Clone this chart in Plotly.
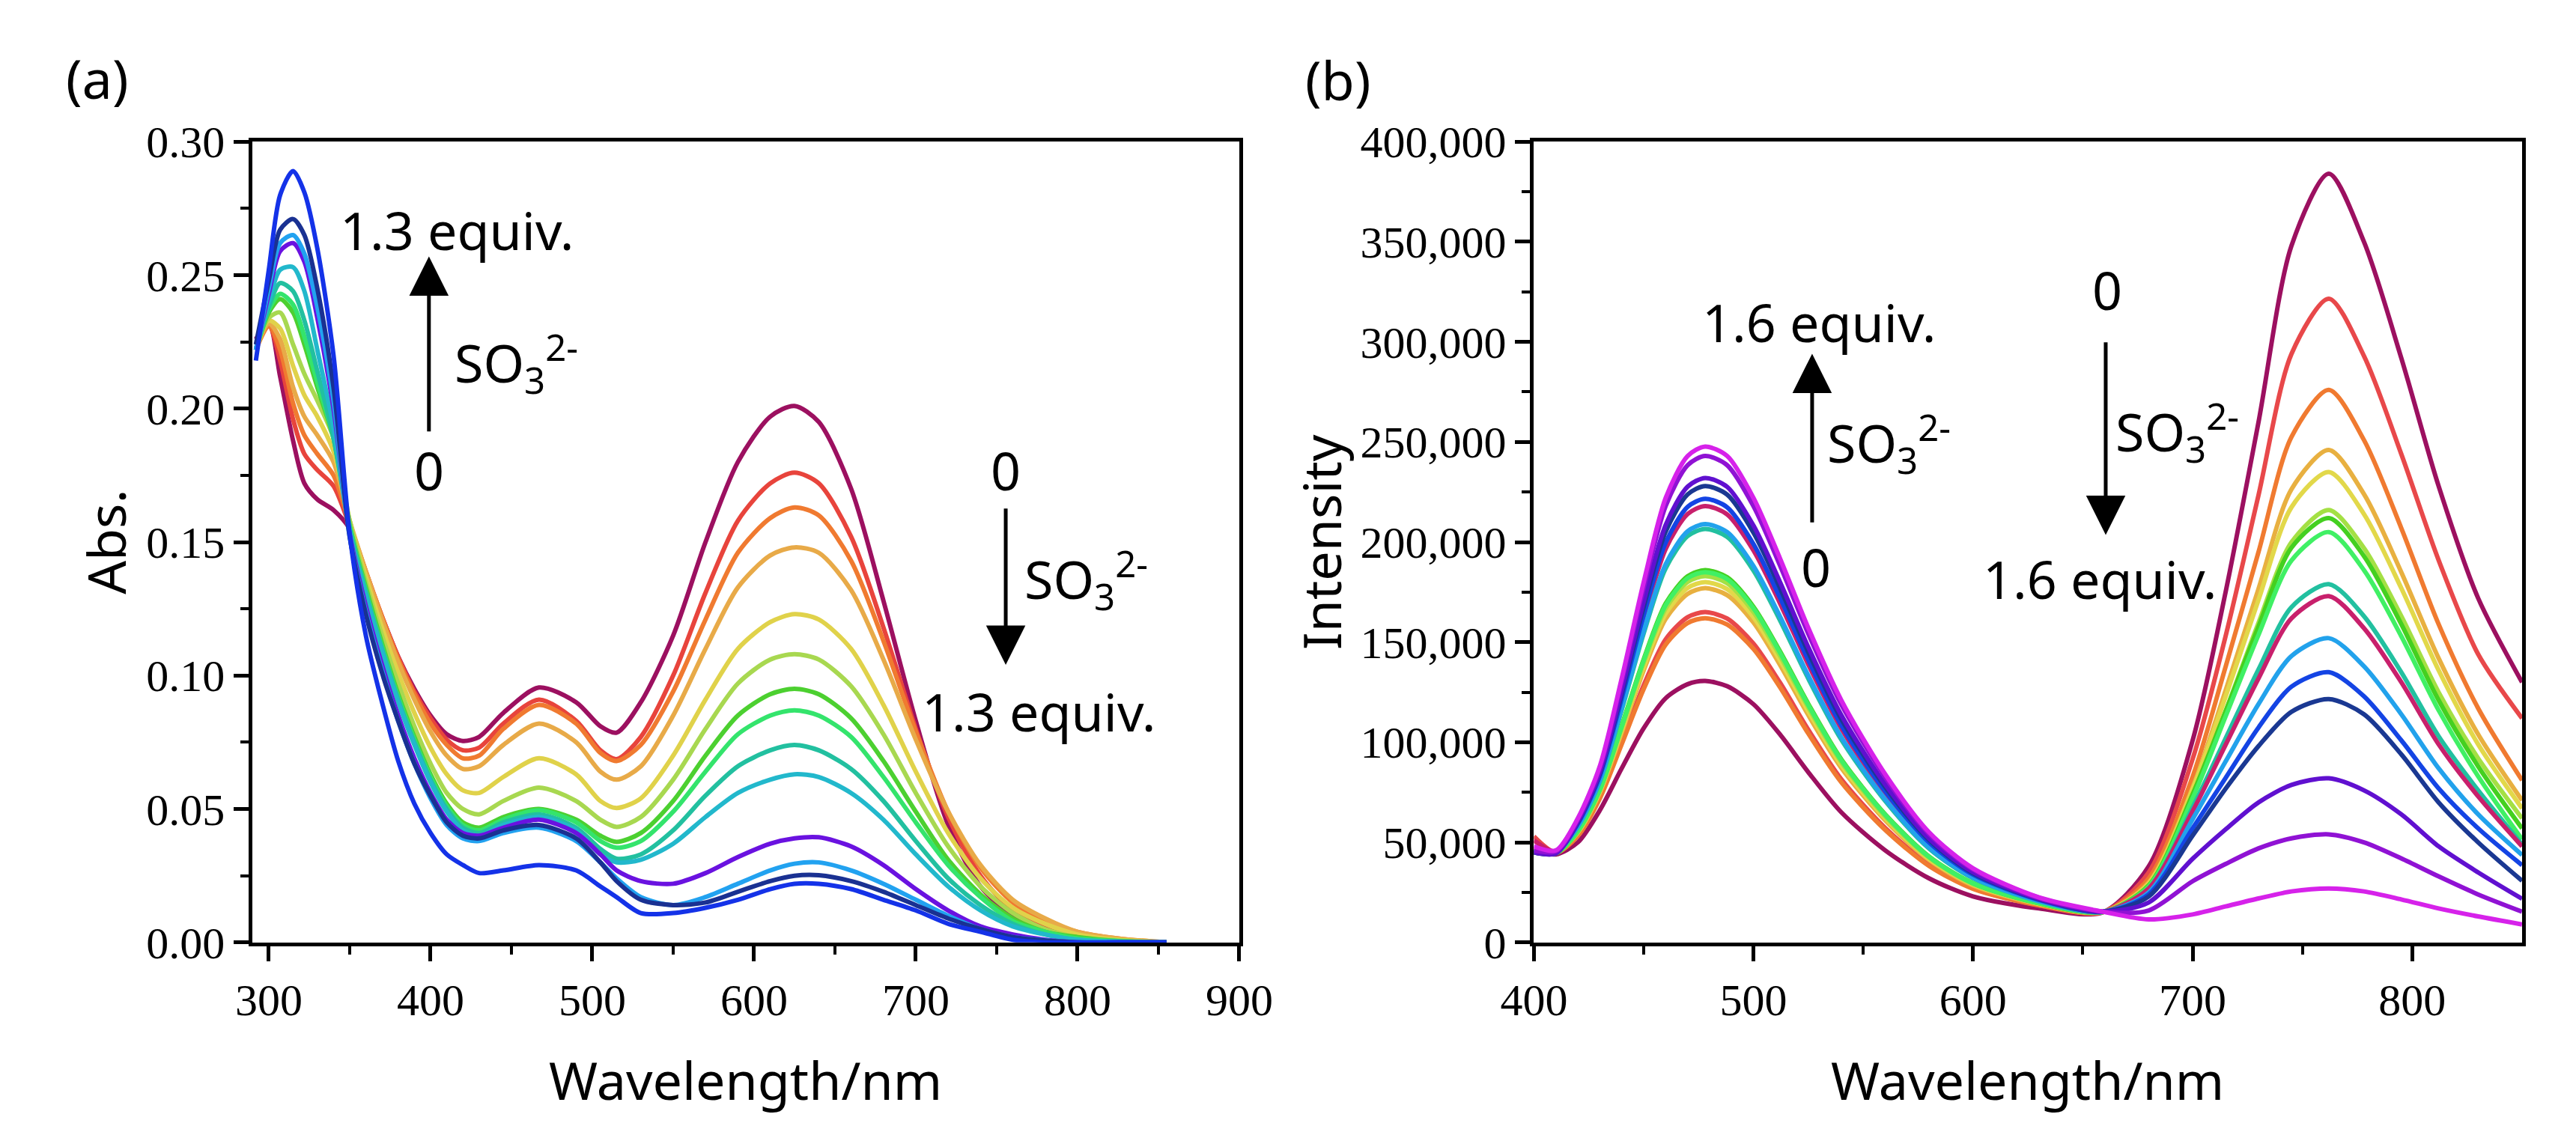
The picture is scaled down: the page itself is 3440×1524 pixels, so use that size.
import plotly.graph_objects as go

# ---------------- panel (a): absorption titration ----------------
WL_A = [292, 300, 307, 315, 322, 330, 340, 350, 360, 370, 380, 390, 400, 410, 420, 430,
        445, 467, 490, 505, 515, 530, 550, 570, 590, 610, 625, 640, 660, 680, 700, 720,
        740, 760, 780, 800, 825, 855]

ABS_00 = [0.226, 0.232, 0.212, 0.188, 0.172, 0.166, 0.162, 0.155, 0.138, 0.122, 0.107, 0.095, 0.085, 0.078, 0.0755, 0.077,
          0.086, 0.0955, 0.090, 0.081, 0.0786, 0.090, 0.115, 0.150, 0.180, 0.197, 0.201, 0.195, 0.170, 0.128, 0.083, 0.044,
          0.021, 0.010, 0.004, 0.0015, 0.0005, 0.0]
ABS_01 = [0.224, 0.231, 0.218, 0.196, 0.183, 0.177, 0.171, 0.156, 0.139, 0.122, 0.107, 0.094, 0.084, 0.076, 0.072, 0.073,
          0.082, 0.091, 0.083, 0.072, 0.0687, 0.077, 0.100, 0.131, 0.158, 0.172, 0.176, 0.172, 0.152, 0.118, 0.080, 0.047,
          0.025, 0.012, 0.006, 0.003, 0.001, 0.0]
ABS_02 = [0.222, 0.231, 0.222, 0.202, 0.190, 0.183, 0.175, 0.157, 0.139, 0.122, 0.106, 0.093, 0.082, 0.074, 0.069, 0.070,
          0.080, 0.089, 0.082, 0.071, 0.068, 0.074, 0.094, 0.121, 0.146, 0.159, 0.163, 0.160, 0.143, 0.113, 0.079, 0.049,
          0.028, 0.015, 0.008, 0.004, 0.0015, 0.0]
ABS_03 = [0.222, 0.232, 0.226, 0.208, 0.197, 0.190, 0.180, 0.158, 0.139, 0.121, 0.105, 0.091, 0.079, 0.070, 0.065, 0.066,
          0.074, 0.082, 0.075, 0.064, 0.061, 0.066, 0.085, 0.110, 0.133, 0.145, 0.148, 0.146, 0.132, 0.106, 0.076, 0.049,
          0.029, 0.016, 0.009, 0.004, 0.0015, 0.0]
ABS_04 = [0.222, 0.233, 0.230, 0.216, 0.205, 0.197, 0.184, 0.158, 0.137, 0.118, 0.101, 0.086, 0.073, 0.063, 0.057, 0.056,
          0.062, 0.069, 0.063, 0.053, 0.0504, 0.054, 0.070, 0.091, 0.110, 0.120, 0.123, 0.121, 0.110, 0.089, 0.064, 0.041,
          0.024, 0.013, 0.007, 0.003, 0.001, 0.0]
ABS_05 = [0.222, 0.234, 0.236, 0.224, 0.213, 0.203, 0.189, 0.158, 0.135, 0.115, 0.097, 0.081, 0.067, 0.056, 0.050, 0.048,
          0.053, 0.058, 0.053, 0.046, 0.0433, 0.047, 0.061, 0.080, 0.097, 0.106, 0.108, 0.106, 0.096, 0.078, 0.056, 0.036,
          0.021, 0.011, 0.005, 0.002, 0.0008, 0.0]
ABS_06 = [0.222, 0.236, 0.241, 0.236, 0.224, 0.208, 0.189, 0.156, 0.133, 0.112, 0.093, 0.077, 0.063, 0.052, 0.045, 0.043,
          0.047, 0.050, 0.046, 0.040, 0.0377, 0.041, 0.053, 0.070, 0.085, 0.093, 0.095, 0.093, 0.084, 0.068, 0.049, 0.031,
          0.018, 0.009, 0.004, 0.002, 0.0005, 0.0]
ABS_07 = [0.222, 0.237, 0.243, 0.239, 0.227, 0.210, 0.189, 0.156, 0.132, 0.111, 0.092, 0.076, 0.062, 0.051, 0.044, 0.042,
          0.046, 0.0495, 0.045, 0.038, 0.0355, 0.038, 0.049, 0.064, 0.078, 0.085, 0.087, 0.085, 0.077, 0.062, 0.045, 0.029,
          0.017, 0.008, 0.004, 0.0015, 0.0005, 0.0]
ABS_08 = [0.222, 0.238, 0.247, 0.244, 0.233, 0.214, 0.189, 0.155, 0.131, 0.110, 0.091, 0.075, 0.061, 0.050, 0.043, 0.041,
          0.045, 0.048, 0.043, 0.035, 0.0314, 0.033, 0.042, 0.055, 0.066, 0.072, 0.074, 0.072, 0.065, 0.053, 0.038, 0.024,
          0.014, 0.007, 0.003, 0.001, 0.0003, 0.0]
ABS_09 = [0.222, 0.240, 0.252, 0.253, 0.244, 0.222, 0.193, 0.154, 0.130, 0.109, 0.090, 0.074, 0.060, 0.049, 0.042, 0.040,
          0.044, 0.047, 0.042, 0.033, 0.030, 0.031, 0.037, 0.047, 0.056, 0.061, 0.063, 0.062, 0.056, 0.046, 0.033, 0.021,
          0.012, 0.006, 0.003, 0.001, 0.0003, 0.0]
ABS_10 = [0.222, 0.243, 0.259, 0.262, 0.255, 0.234, 0.200, 0.153, 0.126, 0.104, 0.085, 0.069, 0.056, 0.046, 0.041, 0.040,
          0.043, 0.046, 0.041, 0.033, 0.027, 0.023, 0.022, 0.026, 0.032, 0.037, 0.039, 0.0394, 0.036, 0.029, 0.020, 0.012,
          0.006, 0.003, 0.001, 0.0, 0.0, 0.0]
ABS_11 = [0.222, 0.245, 0.262, 0.265, 0.258, 0.238, 0.203, 0.152, 0.124, 0.102, 0.083, 0.067, 0.054, 0.044, 0.039, 0.038,
          0.041, 0.043, 0.038, 0.030, 0.024, 0.017, 0.014, 0.017, 0.022, 0.027, 0.0295, 0.030, 0.027, 0.022, 0.016, 0.010,
          0.005, 0.002, 0.0008, 0.0, 0.0, 0.0]
ABS_12 = [0.224, 0.248, 0.267, 0.271, 0.265, 0.245, 0.208, 0.152, 0.123, 0.101, 0.083, 0.067, 0.055, 0.045, 0.040, 0.039,
          0.042, 0.044, 0.039, 0.030, 0.023, 0.016, 0.014, 0.015, 0.019, 0.023, 0.025, 0.0252, 0.023, 0.019, 0.014, 0.009,
          0.005, 0.002, 0.0007, 0.0, 0.0, 0.0]
ABS_13 = [0.218, 0.252, 0.280, 0.289, 0.281, 0.260, 0.220, 0.153, 0.115, 0.090, 0.068, 0.052, 0.041, 0.033, 0.029, 0.026,
          0.027, 0.029, 0.027, 0.021, 0.017, 0.011, 0.011, 0.013, 0.016, 0.020, 0.022, 0.022, 0.020, 0.016, 0.012, 0.007,
          0.004, 0.001, 0.0, 0.0, 0.0, 0.0]

COLORS_A = ["#9c1060", "#e8443c", "#f07a30", "#e8aa48", "#e0d24a", "#a8d850", "#4cd030",
            "#34e46c", "#22c0a0", "#22b8cc", "#6a12e0", "#22a2f0", "#1a3192", "#1432e8"]

# ---------------- panel (b): emission titration (intensity in thousands) ----------------
WL_B = [400, 410, 420, 430, 440, 450, 460, 470, 478, 488, 500, 512, 525, 540, 560, 580, 600, 630,
        659, 680, 700, 715, 730, 745, 762, 778, 795, 812, 830, 850]

FL_00 = [46, 44, 50, 66, 87, 107, 122, 129, 130.6, 128, 119, 104, 85, 65, 46, 32, 23, 17,
         15, 38, 101, 175, 260, 348, 384, 350, 292, 228, 172, 130]
FL_01 = [53, 45, 53.5, 72.5, 100, 128.5, 151.4, 162.5, 165, 161.8, 149.3, 129.9, 106.2, 81.5, 57.2, 38.8, 27.1, 18.6,
         15.1, 35, 91.7, 153, 223.5, 294, 321.6, 293, 244, 191, 144, 112]
FL_02 = [47, 44.5, 53.2, 71.9, 99.1, 126.6, 148.8, 159.6, 162, 158.8, 146.6, 127.6, 104.3, 80, 56.2, 38.2, 26.8, 18.5,
         15.1, 32, 82.9, 137.7, 195.1, 252.5, 276, 251, 207, 159, 117, 81]
FL_03 = [46, 44.8, 54.8, 74.7, 104.8, 135.9, 161.6, 174.1, 177, 173.5, 159.8, 138.8, 113.5, 87.2, 61, 41.1, 28.5, 19.2,
         15.2, 30, 77.4, 125.9, 176.7, 226.4, 246, 224, 185, 142, 104, 71]
FL_04 = [46, 44.8, 55.1, 75.3, 106, 137.8, 164.2, 177.1, 180, 176.5, 162.5, 141.1, 115.4, 88.6, 62, 41.7, 28.9, 19.3,
         15.2, 29.5, 76.6, 122.8, 171.2, 217.4, 235, 214, 177, 136, 99, 67]
FL_05 = [46, 44.9, 55.4, 75.9, 107.2, 139.7, 166.8, 180.1, 183, 179.5, 165.1, 143.4, 117.3, 90.1, 63, 42.3, 29.3, 19.5,
         15.2, 28.5, 73.3, 115.5, 159.7, 199.9, 216, 197, 163, 125, 92, 62]
FL_06 = [45, 44.5, 55.7, 76.4, 108.3, 141.5, 169.3, 182.9, 186, 182.4, 167.7, 145.6, 119.1, 91.5, 64, 42.9, 29.6, 19.6,
         15.2, 28.5, 74.1, 115.5, 157.8, 197.2, 212, 193, 159, 121, 88, 57]
FL_07 = [45, 44.5, 55.6, 76.2, 107.9, 140.9, 168.5, 182, 185, 181.5, 166.9, 144.9, 118.5, 91, 63.7, 42.7, 29.5, 19.6,
         15.2, 28, 72, 112.9, 153.7, 190.8, 205, 186, 153, 116, 83, 51.5]
FL_08 = [46, 45, 57.8, 80.3, 116.2, 154.4, 186.9, 203, 206.6, 202.6, 185.8, 161.1, 131.7, 101.3, 70.7, 46.9, 32.1, 20.6,
         15.3, 27, 67.5, 101.9, 136.4, 167.5, 179, 163, 135, 103, 76, 49]
FL_09 = [51, 45.5, 59, 82.4, 120.6, 161.5, 196.6, 214, 218, 213.8, 195.8, 169.6, 138.7, 106.8, 74.3, 49.2, 33.4, 21.1,
         15.3, 27, 65.6, 98.7, 131.9, 161.9, 173, 157, 130, 99, 73, 48]
FL_10 = [46, 45, 58, 80.7, 117.2, 155.9, 189, 205.4, 209, 205, 188, 163, 133.2, 102.5, 71.5, 47.4, 32.4, 20.7,
         15.3, 25, 61.6, 90.4, 119.1, 143.1, 152, 138, 114, 87, 64, 43.7]
FL_11 = [46, 45, 59.3, 83.1, 122, 163.7, 199.7, 217.6, 221.6, 217.4, 199, 172.4, 141, 108.5, 75.5, 49.9, 33.9, 21.3,
         15.3, 24, 57, 82.2, 107.4, 127.8, 135, 123, 101, 77, 57, 38.6]
FL_12 = [45, 44.5, 60, 84.3, 124.4, 167.7, 205.2, 223.8, 228, 223.7, 204.7, 177.2, 144.9, 111.6, 77.6, 51.1, 34.6, 21.6,
         15.4, 23, 53.4, 76.8, 98.1, 115.2, 121.6, 114, 94, 70, 50, 30.8]
FL_13 = [45, 44.5, 60.4, 85, 126, 170.2, 208.6, 227.7, 232, 227.6, 208.2, 180.2, 147.4, 113.5, 78.9, 51.9, 35.1, 21.8,
         15.4, 20, 41.8, 56.5, 70, 78.7, 82, 76, 64, 48, 35, 21.8]
FL_14 = [46, 45.5, 61.5, 87.1, 130.2, 177.1, 218, 238.4, 243, 238.4, 217.9, 188.5, 154.1, 118.8, 82.5, 54.1, 36.4, 22.3,
         15.4, 16, 30.6, 39.2, 47, 52, 54, 50, 42, 33, 24, 15.4]
FL_15 = [48, 46, 62, 88, 132, 180, 222, 243, 247.7, 243, 222, 192, 157, 121, 84, 55, 37, 22.5,
         15.4, 11.5, 14, 18, 22, 25.5, 27, 25.5, 21.5, 17, 13, 9]

COLORS_B = ["#9c1060", "#e8484a", "#f07a30", "#e8b040", "#e2d84a", "#a4e044", "#44d020", "#40f064",
            "#22c0a0", "#c8206c", "#22a2ec", "#1444e4", "#1a3892", "#6010d0", "#9012d4", "#d622ea"]

TEXT_FONT = "Noto Sans"
TICK_FONT = "Liberation Serif"
W, H = 3440, 1524

fig = go.Figure()

abs_series = [ABS_00, ABS_01, ABS_02, ABS_03, ABS_04, ABS_05, ABS_06,
              ABS_07, ABS_08, ABS_09, ABS_10, ABS_11, ABS_12, ABS_13]
for vals, col in zip(abs_series, COLORS_A):
    fig.add_trace(go.Scatter(x=WL_A, y=vals, mode="lines", xaxis="x", yaxis="y",
                             line=dict(color=col, width=6, shape="spline", smoothing=0.8),
                             showlegend=False, hoverinfo="skip"))

fl_series = [FL_00, FL_01, FL_02, FL_03, FL_04, FL_05, FL_06, FL_07,
             FL_08, FL_09, FL_10, FL_11, FL_12, FL_13, FL_14, FL_15]
for vals, col in zip(fl_series, COLORS_B):
    fig.add_trace(go.Scatter(x=WL_B, y=[v * 1000 for v in vals], mode="lines", xaxis="x2", yaxis="y2",
                             line=dict(color=col, width=6, shape="spline", smoothing=0.8),
                             showlegend=False, hoverinfo="skip"))

axis_common = dict(showline=True, linecolor="black", linewidth=5, mirror=True,
                   ticks="outside", ticklen=20, tickwidth=5, tickcolor="black",
                   showgrid=False, zeroline=False,
                   tickfont=dict(family=TICK_FONT, size=60, color="black"))

y_dom = [1 - 1274 / H, 1 - 156 / H]

fig.update_layout(
    width=W, height=H,
    margin=dict(l=0, r=0, t=0, b=0),
    paper_bgcolor="white", plot_bgcolor="white",
    xaxis=dict(domain=[292 / W, 1645 / W], range=[290, 900], anchor="y",
               tickvals=[300, 400, 500, 600, 700, 800, 900],
               minor=dict(tickvals=[350, 450, 550, 650, 750, 850], ticklen=11, tickwidth=4,
                          tickcolor="black", ticks="outside"),
               **axis_common),
    yaxis=dict(domain=y_dom, range=[0, 0.30], anchor="x",
               tickvals=[0, 0.05, 0.10, 0.15, 0.20, 0.25, 0.30], tickformat=".2f",
               minor=dict(tickvals=[0.025, 0.075, 0.125, 0.175, 0.225, 0.275], ticklen=11, tickwidth=4,
                          tickcolor="black", ticks="outside"),
               **axis_common),
    xaxis2=dict(domain=[2049 / W, 3404 / W], range=[400, 850], anchor="y2",
                tickvals=[400, 500, 600, 700, 800],
                minor=dict(tickvals=[450, 550, 650, 750], ticklen=11, tickwidth=4,
                           tickcolor="black", ticks="outside"),
                **axis_common),
    yaxis2=dict(domain=y_dom, range=[0, 400000], anchor="x2",
                tickvals=[0, 50000, 100000, 150000, 200000, 250000, 300000, 350000, 400000],
                tickformat=",d",
                minor=dict(tickvals=[25000, 75000, 125000, 175000, 225000, 275000, 325000, 375000],
                           ticklen=11, tickwidth=4, tickcolor="black", ticks="outside"),
                **axis_common),
)

SO3 = "SO<sub>3</sub><sup>2-</sup>"


def label(text, x, y, xr, yr, size=70, xanchor="center", angle=0):
    fig.add_annotation(text=text, x=x, y=y, xref=xr, yref=yr, showarrow=False,
                       xanchor=xanchor, yanchor="middle", textangle=angle,
                       font=dict(family=TEXT_FONT, size=size, color="black"))


def arrow(x, y0, y1, xr, yr):
    # tail at y0, head at y1
    fig.add_annotation(text="", x=x, y=y1, ax=x, ay=y0, xref=xr, yref=yr, axref=xr, ayref=yr,
                       showarrow=True, arrowhead=2, arrowsize=2.1, arrowwidth=5, arrowcolor="black",
                       font=dict(family=TEXT_FONT, size=70, color="black"))


# panel labels and axis titles (paper coords from pixel positions)
label("(a)", 79 / W, 1 - 67 / H, "paper", "paper", size=72)
label("(b)", 1780 / W, 1 - 69 / H, "paper", "paper", size=72)
label("Abs.", 90 / W, 1 - 715 / H, "paper", "paper", size=70, angle=-90)
label("Intensity", 1757 / W, 1 - 715 / H, "paper", "paper", size=70, angle=-90)
label("Wavelength/nm", 968 / W, 1 - 1465 / H, "paper", "paper", size=70)
label("Wavelength/nm", 2726 / W, 1 - 1465 / H, "paper", "paper", size=70)

# panel (a) annotations
label("1.3 equiv.", 416, 0.267, "x", "y")
arrow(399, 0.191, 0.257, "x", "y")
label(SO3, 414, 0.217, "x", "y", xanchor="left")
label("0", 399, 0.177, "x", "y")

label("0", 755.6, 0.177, "x", "y")
arrow(755.6, 0.163, 0.104, "x", "y")
label(SO3, 766, 0.136, "x", "y", xanchor="left")
label("1.3 equiv.", 776, 0.0867, "x", "y")

# panel (b) annotations
label("1.6 equiv.", 529.7, 309900, "x2", "y2")
arrow(526.7, 209300, 294100, "x2", "y2")
label(SO3, 533, 249400, "x2", "y2", xanchor="left")
label("0", 528.3, 187500, "x2", "y2")

label("0", 661, 326000, "x2", "y2")
arrow(660.4, 300300, 203600, "x2", "y2")
label(SO3, 664.3, 255000, "x2", "y2", xanchor="left")
label("1.6 equiv.", 657.7, 181800, "x2", "y2")

fig.write_html("out.html")
